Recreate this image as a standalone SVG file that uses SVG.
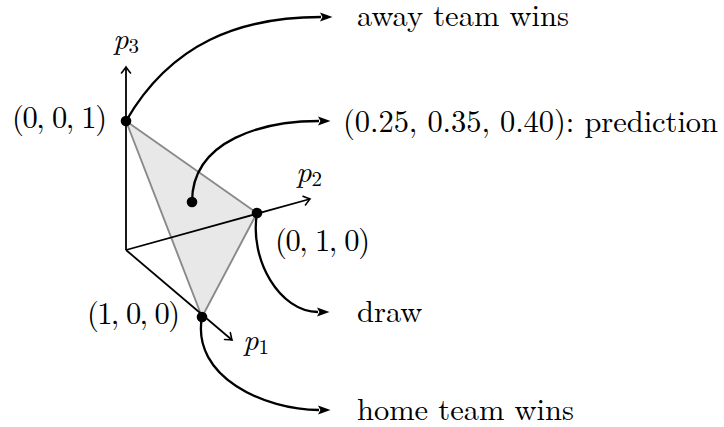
<svg xmlns="http://www.w3.org/2000/svg" width="724" height="427" viewBox="0 0 724 427">
  <style>
    .axis { stroke: #000; stroke-width: 1.8; fill: none; }
    .conn { stroke: #000; stroke-width: 2.3; fill: none; }
    .dot { fill: #000; }
  </style>
  <defs>
    <marker id="open" markerUnits="userSpaceOnUse" viewBox="-8 -6 10 12" refX="0" refY="0" markerWidth="10" markerHeight="12" orient="auto" overflow="visible">
      <path d="M-6,-4.5 Q-1.5,-1 0,0 Q-1.5,1 -6,4.5" fill="none" stroke="#000" stroke-width="1.6" stroke-linecap="round"/>
    </marker>
    <marker id="filled" markerUnits="userSpaceOnUse" viewBox="0 0 12 10" refX="1" refY="5" markerWidth="12" markerHeight="10" orient="auto" overflow="visible">
      <path d="M0,0.6 L12.5,5 L0,9.4 L2.4,5 z" fill="#000"/>
    </marker>
  </defs>

  <g id="simplex">
    <polygon points="126,121 257,213 202,317" fill="#e8e8e8" stroke="#8a8a8a" stroke-width="1.9" stroke-linejoin="round"/>
  </g>

  <g id="axes">
    <path class="axis" d="M126,250 L126,67" marker-end="url(#open)"/>
    <path class="axis" d="M126,250 L310,199" marker-end="url(#open)"/>
    <path class="axis" d="M126,250 L232,340" marker-end="url(#open)"/>
  </g>

  <g id="connectors">
    <path class="conn" d="M126,121 C171,43 240,17 321,17" marker-end="url(#filled)"/>
    <path class="conn" d="M192,202 C192,139 265,121 319,121" marker-end="url(#filled)"/>
    <path class="conn" d="M257,213 C249,260 280,312 318,312" marker-end="url(#filled)"/>
    <path class="conn" d="M202,317 C191,377 265,410 319,410" marker-end="url(#filled)"/>
  </g>

  <g font-family="Latin Modern Roman, Liberation Serif, serif" font-size="30.5" fill="#000">
    <g id="axis-labels">
      <g id="label-p3"><text x="113" y="49"><tspan font-style="italic">p</tspan><tspan dy="4" font-size="21">3</tspan></text></g>
      <g id="label-p2"><text x="296" y="182"><tspan font-style="italic">p</tspan><tspan dy="4" font-size="21">2</tspan></text></g>
      <g id="label-p1"><text x="243" y="350"><tspan font-style="italic">p</tspan><tspan dy="4" font-size="21">1</tspan></text></g>
    </g>

    <g id="vertex-001">
      <circle class="dot" cx="126" cy="121" r="5.3"/>
      <text x="12" y="128" textLength="95">(0, 0, 1)</text>
    </g>
    <g id="vertex-010">
      <circle class="dot" cx="257" cy="213" r="5.3"/>
      <text x="275" y="251" textLength="95">(0, 1, 0)</text>
    </g>
    <g id="vertex-100">
      <circle class="dot" cx="202" cy="317" r="5.3"/>
      <text x="87" y="324" textLength="93">(1, 0, 0)</text>
    </g>
    <g id="prediction-point">
      <circle class="dot" cx="192" cy="202" r="5.3"/>
    </g>

    <g id="away">
      <text x="357" y="26">away team wins</text>
    </g>
    <g id="prediction">
      <text x="343" y="132" textLength="375">(0.25, 0.35, 0.40): prediction</text>
    </g>
    <g id="draw">
      <text x="357" y="322">draw</text>
    </g>
    <g id="home">
      <text x="357" y="420">home team wins</text>
    </g>
  </g>
</svg>
